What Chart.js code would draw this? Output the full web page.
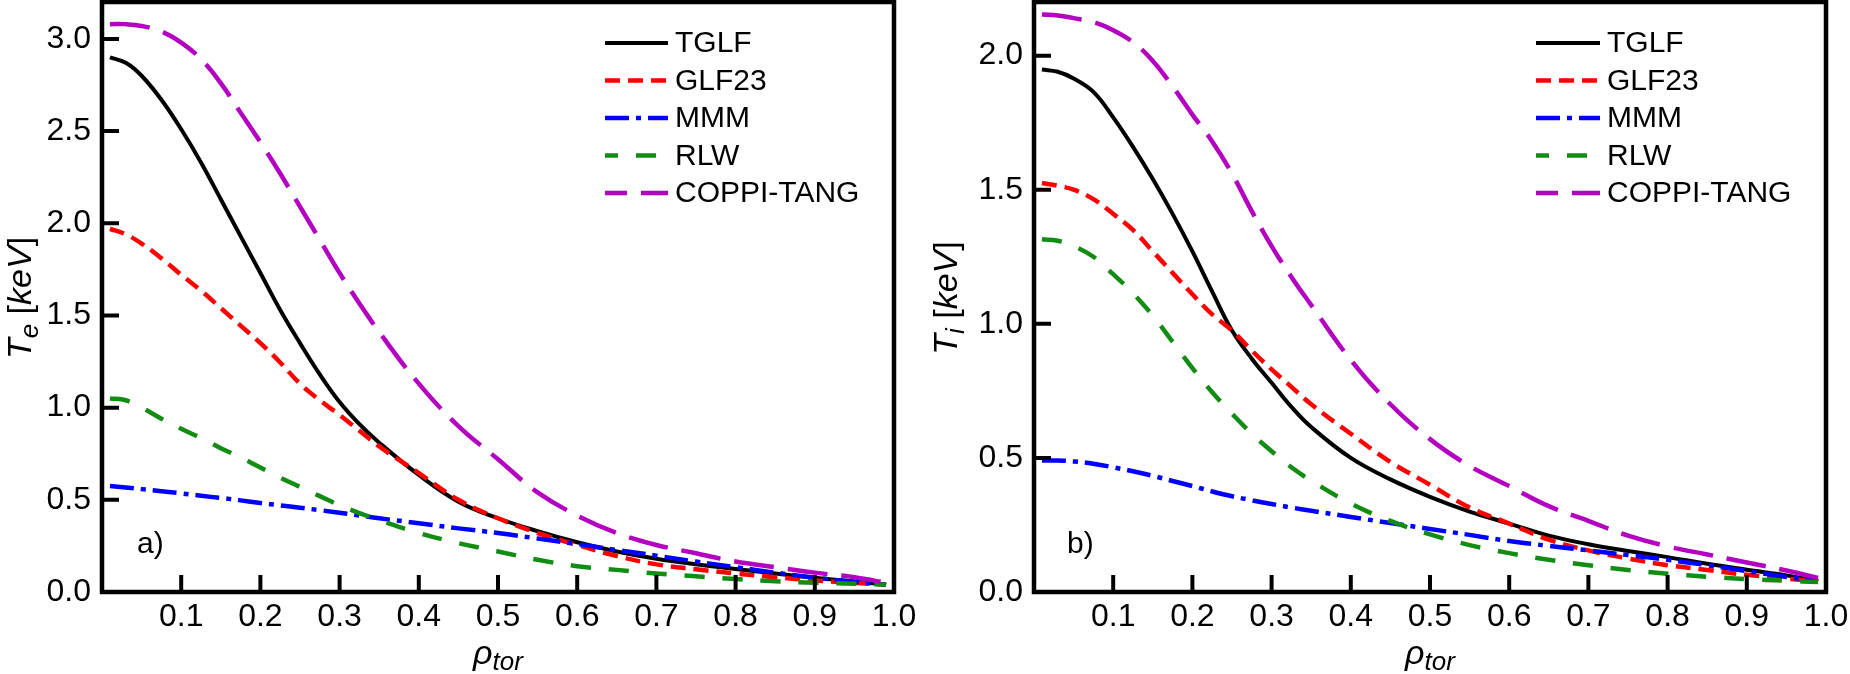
<!DOCTYPE html>
<html><head><meta charset="utf-8">
<script src="https://cdn.jsdelivr.net/npm/chart.js@4.4.1/dist/chart.umd.min.js"></script>
<style>
html,body{margin:0;padding:0;background:#fff;width:1850px;height:674px;overflow:hidden}
canvas{position:absolute;top:0}
#c1{left:0}#c2{left:925px}
</style></head><body>
<canvas id="c1" width="925" height="674"></canvas>
<canvas id="c2" width="925" height="674"></canvas>
<script>
// ---- data ----
const rho = [0.01, 0.03, 0.05, 0.075, 0.1, 0.125, 0.15, 0.175, 0.2, 0.225, 0.25, 0.275, 0.3, 0.325, 0.35, 0.4, 0.45, 0.5, 0.55, 0.6, 0.65, 0.7, 0.75, 0.8, 0.85, 0.9, 0.95, 0.99];
const seriesNames = ['TGLF', 'GLF23', 'MMM', 'RLW', 'COPPI-TANG'];

const teTGLF  = [2.90, 2.87, 2.80, 2.67, 2.51, 2.33, 2.13, 1.93, 1.73, 1.53, 1.35, 1.18, 1.03, 0.91, 0.81, 0.635, 0.49, 0.40, 0.33, 0.27, 0.22, 0.18, 0.15, 0.125, 0.10, 0.077, 0.057, 0.04];
const teGLF23 = [1.97, 1.94, 1.89, 1.81, 1.72, 1.635, 1.54, 1.445, 1.35, 1.245, 1.13, 1.04, 0.96, 0.875, 0.79, 0.645, 0.50, 0.40, 0.32, 0.255, 0.195, 0.15, 0.123, 0.10, 0.08, 0.063, 0.05, 0.04];
const teMMM   = [0.575, 0.567, 0.558, 0.547, 0.535, 0.522, 0.51, 0.497, 0.483, 0.47, 0.457, 0.444, 0.43, 0.415, 0.40, 0.373, 0.345, 0.32, 0.29, 0.26, 0.228, 0.197, 0.165, 0.135, 0.105, 0.078, 0.055, 0.04];
const teRLW   = [1.05, 1.04, 1.00, 0.94, 0.885, 0.835, 0.78, 0.73, 0.675, 0.62, 0.57, 0.52, 0.47, 0.428, 0.39, 0.32, 0.265, 0.22, 0.175, 0.14, 0.12, 0.10, 0.085, 0.07, 0.058, 0.05, 0.045, 0.04];
const teCOPPI = [3.08, 3.08, 3.07, 3.04, 2.98, 2.89, 2.76, 2.60, 2.44, 2.27, 2.09, 1.91, 1.73, 1.565, 1.41, 1.13, 0.90, 0.72, 0.54, 0.415, 0.32, 0.255, 0.21, 0.165, 0.135, 0.105, 0.08, 0.05];

const tiTGLF  = [1.948, 1.94, 1.915, 1.865, 1.77, 1.66, 1.54, 1.41, 1.27, 1.12, 0.975, 0.87, 0.78, 0.69, 0.615, 0.50, 0.42, 0.355, 0.30, 0.255, 0.21, 0.178, 0.153, 0.13, 0.105, 0.083, 0.062, 0.04];
const tiGLF23 = [1.525, 1.515, 1.50, 1.465, 1.41, 1.35, 1.27, 1.19, 1.11, 1.035, 0.975, 0.90, 0.83, 0.765, 0.70, 0.59, 0.485, 0.40, 0.315, 0.255, 0.195, 0.155, 0.125, 0.10, 0.082, 0.064, 0.05, 0.04];
const tiMMM   = [0.49, 0.49, 0.487, 0.478, 0.465, 0.45, 0.433, 0.414, 0.395, 0.375, 0.357, 0.342, 0.328, 0.315, 0.303, 0.28, 0.257, 0.235, 0.213, 0.19, 0.172, 0.155, 0.138, 0.12, 0.10, 0.078, 0.056, 0.04];
const tiRLW   = [1.315, 1.31, 1.29, 1.25, 1.185, 1.114, 1.03, 0.933, 0.835, 0.745, 0.665, 0.59, 0.525, 0.465, 0.415, 0.33, 0.265, 0.215, 0.175, 0.145, 0.12, 0.10, 0.082, 0.068, 0.057, 0.048, 0.042, 0.037];
const tiCOPPI = [2.153, 2.15, 2.14, 2.125, 2.095, 2.05, 1.98, 1.885, 1.78, 1.68, 1.56, 1.42, 1.29, 1.175, 1.07, 0.865, 0.70, 0.57, 0.47, 0.395, 0.32, 0.265, 0.21, 0.17, 0.14, 0.11, 0.08, 0.052];

const xTickStep = 0.1;
const yTickStep = 0.5;
const teMax = 3.2;
const tiMax = 2.2;

// ---- styles ----
const FONT = "'Liberation Sans', Arial, sans-serif";
const lineStyles = [
  {color: '#000000', width: 4,   dash: [],            legendOffset: 0},
  {color: '#ff0000', width: 4.5, dash: [15, 8],       legendOffset: 0},
  {color: '#0000ff', width: 4.5, dash: [24, 7, 5, 7], legendOffset: 0},
  {color: '#128c12', width: 4.5, dash: [20, 18],      legendOffset: 7},
  {color: '#b400c0', width: 4.5, dash: [40, 14],      legendOffset: 18}
];

function drawRich(ctx, parts, x, y) {
  let w = 0;
  parts.forEach(p => { ctx.font = p.font; p.w = ctx.measureText(p.text).width; w += p.w; });
  let cx = x - w / 2;
  ctx.textAlign = 'left';
  ctx.textBaseline = 'alphabetic';
  parts.forEach(p => { ctx.font = p.font; ctx.fillText(p.text, cx, y + (p.dy || 0)); cx += p.w; });
}

function decorPlugin(cfg) {
  return {
    id: 'decor',
    afterDraw(chart) {
      const ctx = chart.ctx, a = chart.chartArea;
      const xs = chart.scales.x, ys = chart.scales.y;
      ctx.save();
      // inward ticks
      ctx.strokeStyle = '#000';
      ctx.lineWidth = 4;
      ctx.lineCap = 'butt';
      ctx.beginPath();
      xs.ticks.forEach(t => {
        if (t.value > 1e-9 && t.value < xs.max - 1e-9) {
          const px = xs.getPixelForValue(t.value);
          ctx.moveTo(px, a.bottom); ctx.lineTo(px, a.bottom - 17);
        }
      });
      ys.ticks.forEach(t => {
        if (t.value > 1e-9) {
          const py = ys.getPixelForValue(t.value);
          ctx.moveTo(a.left, py); ctx.lineTo(a.left + 17, py);
        }
      });
      ctx.stroke();
      // frame
      ctx.lineWidth = 4.5;
      ctx.strokeRect(a.left, a.top, a.right - a.left, a.bottom - a.top);

      ctx.fillStyle = '#000';
      // panel label
      ctx.font = '30px ' + FONT;
      ctx.textAlign = 'left';
      ctx.textBaseline = 'alphabetic';
      ctx.fillText(cfg.panel, a.left + cfg.panelDx, 553);

      // x title
      drawRich(ctx, [
        {text: 'ρ', font: 'italic 34px ' + FONT},
        {text: 'tor', font: 'italic 26px ' + FONT, dy: 6}
      ], (a.left + a.right) / 2, 664);

      // y title
      ctx.save();
      ctx.translate(cfg.yTitleX, 298);
      ctx.rotate(-Math.PI / 2);
      drawRich(ctx, [
        {text: 'T', font: 'italic 34px ' + FONT},
        {text: cfg.sub, font: 'italic 26px ' + FONT, dy: 7},
        {text: ' [', font: '34px ' + FONT},
        {text: 'keV', font: 'italic 34px ' + FONT},
        {text: ']', font: '34px ' + FONT}
      ], 0, 0);
      ctx.restore();

      // legend
      const rows = [43, 80.5, 118, 155.5, 193];
      chart.data.datasets.forEach((ds, i) => {
        const st = lineStyles[i];
        ctx.save();
        ctx.strokeStyle = st.color;
        ctx.lineWidth = st.width;
        ctx.setLineDash(st.dash);
        ctx.lineDashOffset = st.legendOffset;
        ctx.beginPath();
        ctx.moveTo(cfg.legX0, rows[i]);
        ctx.lineTo(cfg.legX1, rows[i]);
        ctx.stroke();
        ctx.restore();
        ctx.font = '30px ' + FONT;
        ctx.textAlign = 'left';
        ctx.textBaseline = 'middle';
        ctx.fillText(ds.label, cfg.legText, rows[i] + 1);
      });
      ctx.restore();
    }
  };
}

function makeChart(id, seriesVals, yMax, cfg) {
  const datasets = seriesNames.map((name, i) => ({
    label: name,
    data: rho.map((r, j) => ({x: r, y: seriesVals[i][j]})),
    borderColor: lineStyles[i].color,
    borderWidth: lineStyles[i].width,
    borderDash: lineStyles[i].dash,
    pointRadius: 0,
    fill: false,
    tension: 0.4,
    order: seriesNames.length - i
  }));
  return new Chart(document.getElementById(id), {
    type: 'line',
    data: {datasets},
    options: {
      responsive: false,
      animation: false,
      devicePixelRatio: 1,
      layout: {padding: {top: 2, right: cfg.padRight, left: 0, bottom: 0}},
      plugins: {legend: {display: false}, tooltip: {enabled: false}},
      scales: {
        x: {
          type: 'linear', min: 0, max: 1,
          grid: {display: false, drawTicks: false},
          border: {display: false},
          ticks: {
            stepSize: xTickStep, autoSkip: false, maxRotation: 0, padding: 6,
            color: '#000', font: {family: FONT, size: 32},
            callback: v => (Math.abs(v) < 1e-9 ? '' : v.toFixed(1))
          },
          afterFit(s) { s.height = 82; s.paddingLeft = 0; s.paddingRight = 0; }
        },
        y: {
          min: 0, max: yMax,
          grid: {display: false, drawTicks: false},
          border: {display: false},
          ticks: {
            stepSize: yTickStep, includeBounds: false, padding: 11,
            color: '#000', font: {family: FONT, size: 32},
            callback: v => v.toFixed(1)
          },
          afterFit(s) { s.width = cfg.yWidth; s.paddingTop = 0; s.paddingBottom = 0; }
        }
      }
    },
    plugins: [decorPlugin(cfg)]
  });
}

makeChart('c1', [teTGLF, teGLF23, teMMM, teRLW, teCOPPI], teMax, {
  padRight: 31, yWidth: 102, panel: 'a)', panelDx: 35, sub: 'e', yTitleX: 31,
  legX0: 605, legX1: 668, legText: 675
});
makeChart('c2', [tiTGLF, tiGLF23, tiMMM, tiRLW, tiCOPPI], tiMax, {
  padRight: 24, yWidth: 109, panel: 'b)', panelDx: 33, sub: 'i', yTitleX: 32,
  legX0: 611, legX1: 675, legText: 682
});
</script>
</body></html>
